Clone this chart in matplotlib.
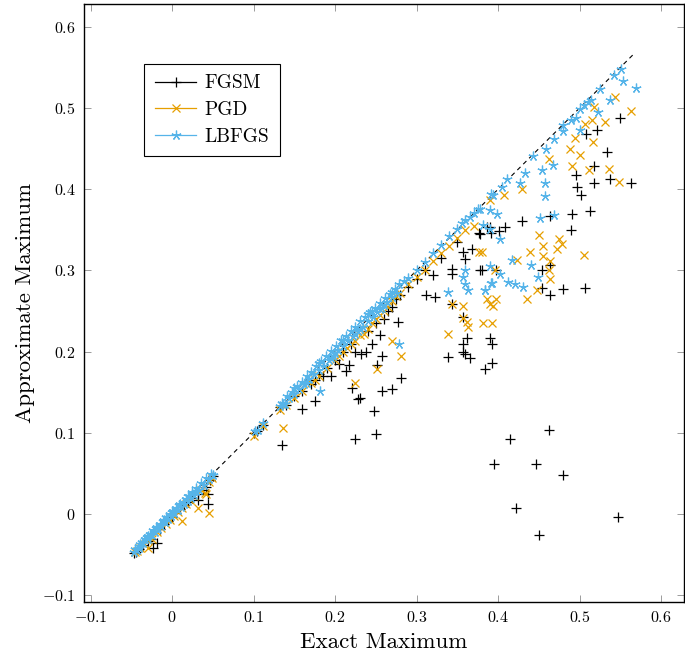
import numpy as np
import matplotlib
matplotlib.use('Agg')
import matplotlib.pyplot as plt
from matplotlib.lines import Line2D

plt.rcParams['font.family'] = 'serif'
plt.rcParams['font.serif'] = ['cmr10', 'DejaVu Serif']
plt.rcParams['mathtext.fontset'] = 'cm'
plt.rcParams['axes.formatter.use_mathtext'] = True

# ---- data (exact max, approximate max) ----
fgsm_x = [-0.047, -0.044, -0.040, -0.035, -0.030, -0.026, -0.023, -0.019, -0.015, -0.010,
          -0.005, 0.000, 0.005, 0.010, 0.015, 0.020, 0.025, 0.032, 0.032, 0.038, 0.042, 0.044,
          0.044, 0.047, 0.050,
          0.100, 0.104, 0.112, 0.133, 0.135, 0.140, 0.150, 0.159, 0.160, 0.170, 0.175, 0.175,
          0.180, 0.185, 0.190, 0.195, 0.200, 0.205, 0.210, 0.213, 0.217, 0.220, 0.221, 0.224,
          0.225, 0.228, 0.230, 0.232, 0.238, 0.240, 0.245, 0.248, 0.250, 0.250, 0.251, 0.255,
          0.257, 0.258, 0.260, 0.265, 0.270, 0.270, 0.275, 0.277, 0.280, 0.281, 0.290, 0.300,
          0.310, 0.312, 0.320, 0.322, 0.330, 0.338, 0.343, 0.344, 0.343, 0.350, 0.357, 0.357,
          0.357, 0.357, 0.359, 0.359, 0.362, 0.365, 0.368, 0.378, 0.380, 0.384, 0.390, 0.390,
          0.393, 0.393,
          0.463, 0.415, 0.395, 0.447, 0.479, 0.422, 0.450, 0.547,
          0.549, 0.508, 0.521, 0.533, 0.518, 0.495, 0.518, 0.537, 0.563, 0.497, 0.502, 0.491,
          0.513, 0.464, 0.429, 0.489, 0.408, 0.401, 0.391, 0.377, 0.386, 0.378, 0.398, 0.454,
          0.464, 0.454, 0.479, 0.506, 0.464]
fgsm_y = [-0.048, -0.046, -0.043, -0.038, -0.033, -0.030, -0.042, -0.036, -0.018, -0.012,
          -0.008, -0.003, 0.002, 0.006, 0.011, 0.015, 0.020, 0.017, 0.025, 0.030, 0.033, 0.013,
          0.025, 0.042, 0.047,
          0.100, 0.102, 0.110, 0.132, 0.085, 0.135, 0.145, 0.130, 0.152, 0.160, 0.139, 0.165,
          0.172, 0.170, 0.180, 0.170, 0.190, 0.185, 0.200, 0.176, 0.184, 0.210, 0.155, 0.092,
          0.200, 0.142, 0.143, 0.197, 0.200, 0.225, 0.210, 0.127, 0.235, 0.099, 0.184, 0.220,
          0.195, 0.152, 0.240, 0.250, 0.154, 0.255, 0.265, 0.237, 0.270, 0.168, 0.280, 0.290,
          0.300, 0.270, 0.295, 0.267, 0.315, 0.193, 0.302, 0.296, 0.259, 0.335, 0.323, 0.243,
          0.209, 0.200, 0.197, 0.314, 0.217, 0.192, 0.327, 0.345, 0.301, 0.179, 0.354, 0.217,
          0.209, 0.186,
          0.104, 0.093, 0.062, 0.062, 0.048, 0.008, -0.025, -0.004,
          0.488, 0.468, 0.473, 0.446, 0.428, 0.418, 0.408, 0.412, 0.408, 0.403, 0.393, 0.370,
          0.373, 0.367, 0.361, 0.350, 0.354, 0.348, 0.346, 0.346, 0.354, 0.300, 0.301, 0.301,
          0.307, 0.279, 0.277, 0.278, 0.270]

pgd_x = [-0.046, -0.043, -0.039, -0.034, -0.029, -0.029, -0.025, -0.018, -0.013, -0.008,
         -0.003, 0.002, 0.007, 0.012, 0.012, 0.017, 0.022, 0.027, 0.032, 0.035, 0.040, 0.042,
         0.045, 0.045, 0.049,
         0.101, 0.112, 0.133, 0.136, 0.140, 0.150, 0.160, 0.170, 0.175, 0.180, 0.190, 0.200,
         0.205, 0.210, 0.215, 0.220, 0.224, 0.225, 0.230, 0.235, 0.240, 0.245, 0.250, 0.251,
         0.255, 0.260, 0.265, 0.270, 0.270, 0.275, 0.280, 0.281, 0.290, 0.300, 0.310, 0.320,
         0.330, 0.338, 0.340, 0.343, 0.350, 0.357, 0.357, 0.362, 0.363, 0.360, 0.370, 0.380,
         0.382, 0.390, 0.393, 0.394,
         0.544, 0.563, 0.531, 0.518, 0.506, 0.515, 0.494, 0.517, 0.488, 0.500, 0.463, 0.491,
         0.512, 0.536, 0.548, 0.429, 0.407, 0.390, 0.450, 0.475, 0.478, 0.472, 0.455, 0.439,
         0.455, 0.423, 0.505, 0.464, 0.463, 0.464, 0.396, 0.376, 0.448, 0.436, 0.398, 0.386]
pgd_y = [-0.047, -0.045, -0.042, -0.037, -0.032, -0.041, -0.030, -0.022, -0.017, -0.012,
         -0.007, -0.002, 0.003, 0.008, -0.008, 0.013, 0.018, 0.022, 0.008, 0.030, 0.026, 0.025,
         0.002, 0.040, 0.045,
         0.096, 0.108, 0.128, 0.106, 0.134, 0.143, 0.152, 0.162, 0.165, 0.170, 0.180, 0.190,
         0.195, 0.200, 0.205, 0.210, 0.161, 0.213, 0.220, 0.222, 0.228, 0.235, 0.240, 0.179,
         0.245, 0.250, 0.255, 0.262, 0.213, 0.268, 0.272, 0.195, 0.283, 0.292, 0.300, 0.312,
         0.322, 0.222, 0.330, 0.259, 0.340, 0.256, 0.241, 0.237, 0.231, 0.350, 0.355, 0.323,
         0.235, 0.259, 0.235, 0.256,
         0.514, 0.496, 0.483, 0.501, 0.480, 0.485, 0.463, 0.458, 0.450, 0.442, 0.437, 0.428,
         0.424, 0.425, 0.409, 0.400, 0.393, 0.387, 0.344, 0.339, 0.333, 0.326, 0.330, 0.323,
         0.318, 0.313, 0.319, 0.312, 0.301, 0.290, 0.300, 0.323, 0.276, 0.265, 0.265, 0.265]

lbfgs_x = [-0.047, -0.045, -0.043, -0.041, -0.039, -0.037, -0.035, -0.033, -0.031, -0.029,
           -0.027, -0.025, -0.023, -0.021, -0.019, -0.017, -0.015, -0.013, -0.011, -0.009,
           -0.007, -0.005, -0.003, -0.001, 0.001, 0.003, 0.005, 0.007, 0.009, 0.011, 0.013,
           0.015, 0.017, 0.019, 0.021, 0.023, 0.025, 0.027, 0.030, 0.033, 0.036, 0.039, 0.042,
           0.045, 0.048, 0.050, -0.040, -0.030, -0.020, -0.010, 0.000, 0.010, 0.020, 0.030,
           0.102, 0.105, 0.112, 0.133, 0.136,
           0.135, 0.138, 0.141, 0.144, 0.147, 0.150, 0.153, 0.156, 0.159, 0.162, 0.165, 0.168,
           0.171, 0.174, 0.177, 0.180, 0.183, 0.186, 0.189, 0.192, 0.195, 0.198, 0.201, 0.204,
           0.207, 0.210, 0.213, 0.216, 0.219, 0.222, 0.225, 0.228, 0.231, 0.234, 0.237, 0.240,
           0.243, 0.246, 0.249, 0.252, 0.255, 0.258, 0.261, 0.264, 0.267, 0.270, 0.273, 0.276,
           0.279, 0.150, 0.165, 0.180, 0.195, 0.210, 0.225, 0.240, 0.255, 0.270, 0.200, 0.230,
           0.245, 0.260, 0.182,
           0.285, 0.290, 0.300, 0.310, 0.320, 0.330, 0.340, 0.350, 0.356, 0.360, 0.365, 0.370,
           0.375, 0.279, 0.338, 0.359, 0.357, 0.359, 0.363, 0.390, 0.393, 0.384, 0.391,
           0.394, 0.405, 0.411, 0.433, 0.443, 0.459, 0.468, 0.479, 0.480, 0.489, 0.496, 0.501,
           0.505, 0.510, 0.514, 0.525, 0.542, 0.551, 0.553, 0.569, 0.537, 0.522, 0.501, 0.454,
           0.467, 0.427, 0.458, 0.458, 0.390, 0.399, 0.378, 0.451, 0.468, 0.381, 0.390, 0.402,
           0.417, 0.440, 0.402, 0.449, 0.391, 0.412, 0.421, 0.431, 0.384]
lbfgs_y = [-0.046, -0.043, -0.044, -0.039, -0.037, -0.034, -0.036, -0.031, -0.028, -0.030,
           -0.024, -0.025, -0.020, -0.022, -0.016, -0.018, -0.012, -0.014, -0.008, -0.010,
           -0.004, -0.006, 0.000, -0.002, 0.004, 0.002, 0.008, 0.005, 0.011, 0.009, 0.015,
           0.013, 0.019, 0.016, 0.023, 0.020, 0.027, 0.024, 0.032, 0.030, 0.038, 0.036, 0.045,
           0.043, 0.050, 0.048, -0.042, -0.027, -0.017, -0.007, 0.003, 0.013, 0.022, 0.028,
           0.102, 0.104, 0.112, 0.133, 0.136,
           0.137, 0.136, 0.145, 0.143, 0.150, 0.148, 0.158, 0.154, 0.163, 0.160, 0.170, 0.166,
           0.175, 0.172, 0.183, 0.178, 0.188, 0.183, 0.195, 0.190, 0.201, 0.195, 0.207, 0.202,
           0.214, 0.207, 0.219, 0.213, 0.226, 0.219, 0.231, 0.226, 0.238, 0.231, 0.243, 0.238,
           0.249, 0.243, 0.254, 0.249, 0.260, 0.254, 0.266, 0.261, 0.271, 0.267, 0.277, 0.272,
           0.283, 0.155, 0.162, 0.186, 0.192, 0.215, 0.222, 0.246, 0.252, 0.274, 0.198, 0.228,
           0.250, 0.258, 0.152,
           0.287, 0.291, 0.301, 0.311, 0.322, 0.331, 0.342, 0.351, 0.358, 0.362, 0.366, 0.371,
           0.376, 0.210, 0.274, 0.301, 0.292, 0.283, 0.276, 0.305, 0.284, 0.276, 0.394,
           0.393, 0.403, 0.412, 0.420, 0.441, 0.450, 0.462, 0.472, 0.479, 0.485, 0.488, 0.499,
           0.504, 0.507, 0.510, 0.523, 0.541, 0.548, 0.533, 0.525, 0.510, 0.495, 0.473, 0.424,
           0.430, 0.408, 0.408, 0.392, 0.375, 0.369, 0.376, 0.364, 0.368, 0.356, 0.351, 0.339,
           0.313, 0.307, 0.296, 0.292, 0.285, 0.286, 0.283, 0.280, 0.276]

diag_ends = [-0.047, 0.567]
tick_vals = [-0.1, 0.0, 0.1, 0.2, 0.3, 0.4, 0.5, 0.6]
tick_labels = ['$-0.1$', '$0$', '$0.1$', '$0.2$', '$0.3$', '$0.4$', '$0.5$', '$0.6$']

c_fgsm = 'black'
c_pgd = '#E69F00'
c_lbfgs = '#56B4E9'
star = (5, 2, 0)

fig = plt.figure(figsize=(6.85, 6.59), dpi=100)
ax = fig.add_axes([0.1226, 0.0865, 0.8759, 0.9075])

ax.plot(diag_ends, diag_ends, color='black', lw=0.8, dashes=(4, 3.5))
ax.plot(fgsm_x, fgsm_y, ls='none', marker='+', ms=7, mew=0.9, color=c_fgsm)
ax.plot(pgd_x, pgd_y, ls='none', marker='x', ms=5.5, mew=0.9, color=c_pgd)
ax.plot(lbfgs_x, lbfgs_y, ls='none', marker=star, ms=7, mew=0.9, color=c_lbfgs)

ax.set_xlim(-0.108, 0.628)
ax.set_ylim(-0.108, 0.628)
ax.set_xticks(tick_vals)
ax.set_xticklabels(tick_labels)
ax.set_yticks(tick_vals)
ax.set_yticklabels(tick_labels)
ax.tick_params(direction='in', top=True, right=True, length=5, width=0.6,
               color='0.55', labelsize=11.5, labelcolor='black', pad=6)
for s in ax.spines.values():
    s.set_linewidth(1.0)

ax.set_xlabel('Exact Maximum', fontsize=16.5, labelpad=5)
ax.set_ylabel('Approximate Maximum', fontsize=16.5, labelpad=5)

handles = [
    Line2D([], [], color=c_fgsm, lw=0.9, marker='+', ms=7, mew=0.9),
    Line2D([], [], color=c_pgd, lw=0.9, marker='x', ms=5.5, mew=0.9),
    Line2D([], [], color=c_lbfgs, lw=0.9, marker=star, ms=7, mew=0.9),
]
leg = ax.legend(handles, ['FGSM', 'PGD', 'LBFGS'], loc='upper left',
                bbox_to_anchor=(0.1, 0.9), borderaxespad=0, fontsize=14,
                numpoints=1, handlelength=2.15, fancybox=False, framealpha=1,
                edgecolor='black', borderpad=0.55, labelspacing=0.45,
                handletextpad=0.4)
leg.get_frame().set_linewidth(0.8)

fig.savefig('out.png', dpi=100)
